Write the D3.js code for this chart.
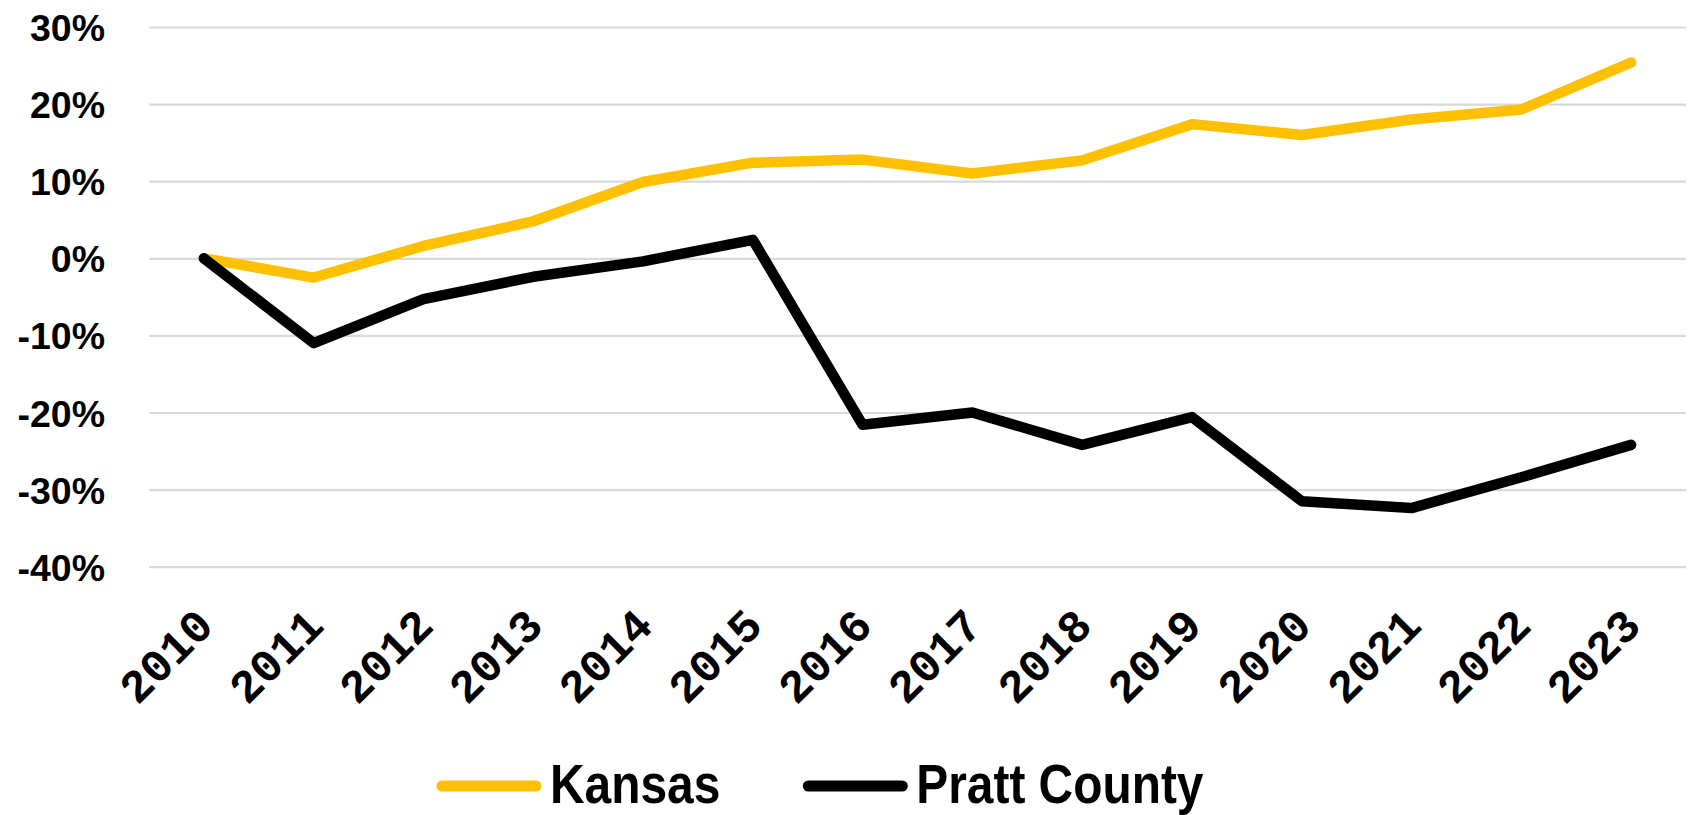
<!DOCTYPE html>
<html>
<head>
<meta charset="utf-8">
<script src="https://cdn.jsdelivr.net/npm/d3@7"></script>
<style>
  body { margin: 0; background: #fff; }
</style>
</head>
<body>
<svg id="chart" width="1691" height="815"></svg>
<script>
// the data
const years = ["2010", "2011", "2012", "2013", "2014", "2015", "2016",
               "2017", "2018", "2019", "2020", "2021", "2022", "2023"];
const kansas = [0, -2.5, 1.6, 4.8, 9.9, 12.4, 12.8, 11.0, 12.7, 17.4, 16.0, 18.0, 19.3, 25.4];
const pratt = [0, -11.0, -5.3, -2.4, -0.4, 2.4, -21.6, -20.0, -24.2, -20.6, -31.5, -32.4, -28.4, -24.2];
const yTicks = [-40, -30, -20, -10, 0, 10, 20, 30];
const seriesNames = ["Kansas", "Pratt County"];
const seriesColors = ["#FFC000", "#000000"];

let svg = d3.select("#chart");

// plot area
const plotLeft = 149, plotRight = 1686, plotTop = 27, plotBottom = 566.7;

let x = d3.scaleBand().domain(years).range([plotLeft, plotRight]);
let y = d3.scaleLinear().domain([-40, 30]).range([plotBottom, plotTop]);
const cx = d => x(d) + x.bandwidth() / 2;

// gridlines + y labels
let yAxis = svg.append("g")
  .attr("transform", `translate(${plotLeft},0)`)
  .call(d3.axisLeft(y).tickValues(yTicks).tickSize(-(plotRight - plotLeft)).tickPadding(44)
    .tickFormat(d => d + "%"));
yAxis.select(".domain").remove();
yAxis.selectAll(".tick line").attr("stroke", "#d9d9d9").attr("stroke-width", 2.2);
yAxis.selectAll(".tick text")
  .attr("fill", "#000")
  .attr("font-family", "'Liberation Sans', Arial, sans-serif")
  .attr("font-weight", "bold")
  .attr("font-size", 37.5)
  .attr("dy", "0.36em");

// x labels, rotated
let xAxis = svg.append("g")
  .attr("transform", "translate(0,628)")
  .call(d3.axisBottom(x).tickSize(0));
xAxis.select(".domain").remove();
xAxis.selectAll(".tick text")
  .attr("fill", "#000")
  .attr("font-family", "'Liberation Mono', 'Courier New', monospace")
  .attr("font-weight", "bold")
  .attr("font-size", 46)
  .attr("y", 0).attr("dy", 0)
  .attr("text-anchor", "end")
  .attr("transform", "translate(12,0) rotate(-45)");

// lines
let line = d3.line()
  .x((d, i) => cx(years[i]))
  .y(d => y(d));

[kansas, pratt].forEach((s, i) => {
  svg.append("path")
    .datum(s)
    .attr("d", line)
    .attr("fill", "none")
    .attr("stroke", seriesColors[i])
    .attr("stroke-width", 10.5)
    .attr("stroke-linejoin", "round")
    .attr("stroke-linecap", "round");
});

// legend
let legend = svg.append("g");
const legFont = "'Liberation Sans Narrow', 'Arial Narrow', 'Liberation Sans', sans-serif";
// check whether a narrow face exists; squeeze the regular face if not
let probeA = svg.append("text").attr("font-family", "'Liberation Sans Narrow', 'Arial Narrow', monospace").attr("font-size", 50).text("Kansas");
let probeB = svg.append("text").attr("font-family", "monospace").attr("font-size", 50).text("Kansas");
const hasNarrow = Math.abs(probeA.node().getComputedTextLength() - probeB.node().getComputedTextLength()) > 2;
probeA.remove(); probeB.remove();
const squeeze = hasNarrow ? 1 : 0.855;

let lx = 442;
seriesNames.forEach((name, i) => {
  legend.append("line")
    .attr("x1", lx).attr("x2", lx + 94)
    .attr("y1", 786).attr("y2", 786)
    .attr("stroke", seriesColors[i])
    .attr("stroke-width", 11)
    .attr("stroke-linecap", "round");
  let t = legend.append("text")
    .attr("font-family", legFont)
    .attr("font-weight", "bold")
    .attr("font-size", 56)
    .attr("fill", "#000")
    .attr("transform", `translate(${lx + 108},803) scale(${squeeze},1)`)
    .text(name);
  const w = t.node().getComputedTextLength() * squeeze;
  lx = lx + 108 + w + 88;
});
</script>
</body>
</html>
